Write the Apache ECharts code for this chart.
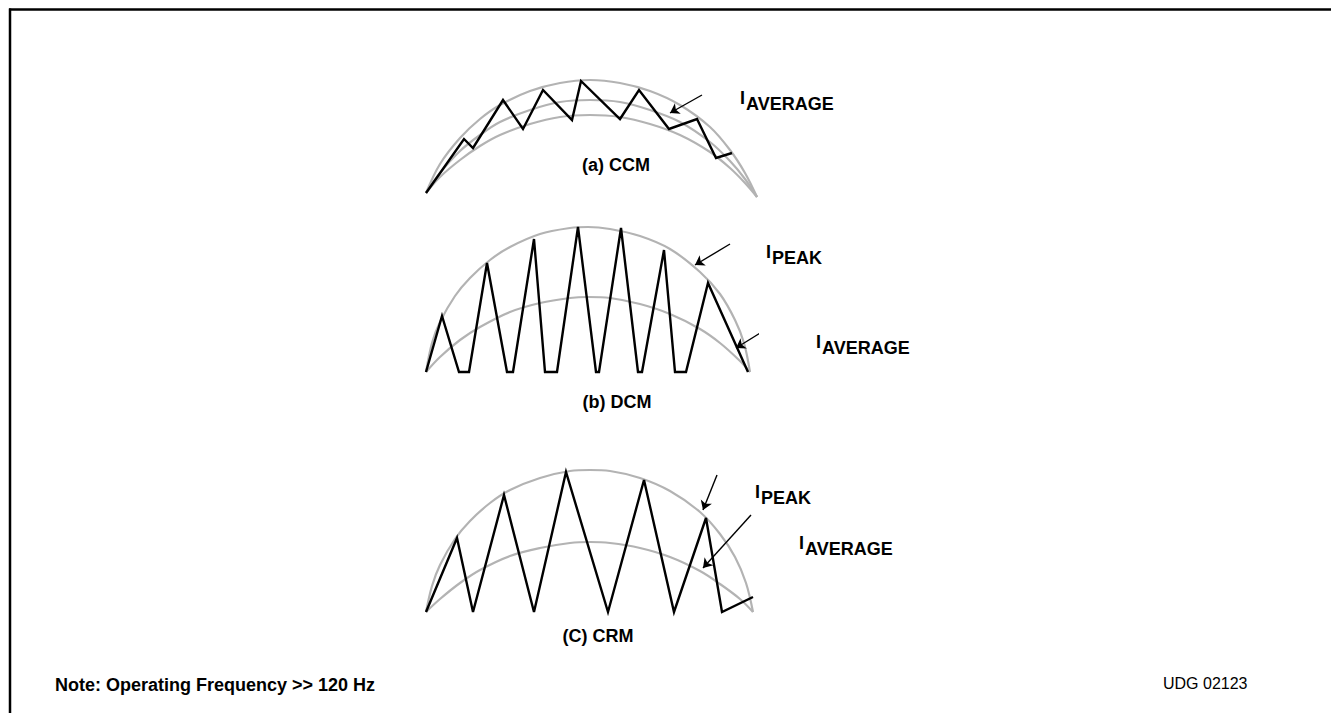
<!DOCTYPE html>
<html>
<head>
<meta charset="utf-8">
<script src="https://cdn.jsdelivr.net/npm/echarts@6/dist/echarts.min.js"></script>
<style>
html,body{margin:0;padding:0;background:#fff;}
#chart{width:1331px;height:713px;}
</style>
</head>
<body>
<div id="chart"></div>
<script>
// ---- data (time t, current i in arbitrary units) ----
// Panel (a) CCM
var ccmOuter  = [[0,2],[14,31],[34,57],[54,76],[74,90],[104,104],[134,112],[164,115],[194,112],[224,104],[254,90],[284,68],[304,45],[319,22],[331,-2]];
var ccmMiddle = [[0,2],[14,22],[34,44],[54,60],[74,73],[104,85],[134,93],[164,95],[194,93],[224,85],[254,73],[284,53],[304,34],[319,16],[331,-2]];
var ccmInner  = [[0,2],[14,18],[34,35],[54,49],[74,60],[104,71],[134,78],[164,80],[194,78],[224,71],[254,60],[284,43],[304,27],[319,12],[331,-2]];
var ccmWave   = [[0,2],[38,56],[47,47],[77,95],[97,66],[117,105],[146,75],[155,114],[194,76],[213,105],[243,66],[271,76],[290,37],[306,42]];
var ccmAvgArrow = [[276,100],[244,82]];
// Panel (b) DCM
var dcmOuter = [[0,0],[6,29],[14,50],[29,76],[44,94],[64,112],[84,125],[114,138],[144,144],[162,145],[184,143],[214,136],[244,123],[274,100],[294,78],[309,52],[318,29],[324,0]];
var dcmInner = [[0,0],[14,15],[34,32],[54,45],[84,60],[114,69],[144,74],[162,75],[184,74],[214,68],[244,58],[274,43],[294,29],[314,11],[324,0]];
var dcmWave  = [[0,0],[16,56],[33,0],[43,0],[61,109],[81,0],[87,0],[108,133],[119,0],[131,0],[152,145],[170,0],[173,0],[195,144],[212,0],[216,0],[238,122],[249,0],[260,0],[282,89],[322,0]];
var dcmPeakArrow = [[304,128],[269,107]];
var dcmAvgArrow  = [[344,45],[310,24]];
// Panel (c) CRM
var crmOuter = [[0,0],[6,26],[14,47],[29,73],[44,91],[64,109],[84,122],[114,134],[144,141],[164,142],[184,141],[214,134],[244,121],[274,100],[294,78],[309,55],[320,29],[327,0]];
var crmInner = [[0,0],[14,13],[34,29],[54,42],[84,56],[114,64],[144,69],[164,70],[184,69],[214,64],[244,55],[274,41],[294,28],[314,13],[327,0]];
var crmWave  = [[0,0],[31,74],[47,0],[78,117],[108,0],[140,140],[182,0],[218,132],[248,0],[280,94],[296,0],[327,15]];
var crmPeakArrow = [[291,137],[277,102]];
var crmAvgArrow  = [[325,97],[277,44]];
// texts
var panelLabels = ['(a) CCM', '(b) DCM', '(C) CRM'];
var noteText = 'Note: Operating Frequency >> 120 Hz';
var figId = 'UDG 02123';

// ---- chart ----
var FONT = '"Liberation Sans", Arial, Helvetica, sans-serif';
var GRAY = '#b3b3b3';
var chart = echarts.init(document.getElementById('chart'), null, {renderer: 'svg'});

var grids = [
  {left: 426, width: 331, top: 35,  height: 170},
  {left: 426, width: 331, top: 212, height: 170},
  {left: 426, width: 331, top: 452, height: 170}
];
var xAxes = [], yAxes = [];
for (var k = 0; k < 3; k++) {
  xAxes.push({type: 'value', gridIndex: k, min: 0, max: 331, show: false});
  yAxes.push({type: 'value', gridIndex: k, min: -10, max: 160, show: false});
}

function arc(data, g) {
  return {type: 'line', xAxisIndex: g, yAxisIndex: g, data: data, smooth: 0.35, showSymbol: false,
    symbol: 'none', clip: false, silent: true, lineStyle: {color: GRAY, width: 2.2}, z: 2};
}
function wave(data, g) {
  return {type: 'line', xAxisIndex: g, yAxisIndex: g, data: data, smooth: false, showSymbol: false,
    symbol: 'none', clip: false, silent: true, lineStyle: {color: '#000', width: 2.4, join: 'miter'}, z: 3};
}
function arrow(pts, g) {
  return {type: 'lines', coordinateSystem: 'cartesian2d', xAxisIndex: g, yAxisIndex: g,
    data: [{coords: pts}], symbol: ['none', 'arrow'], symbolSize: 9, silent: true,
    lineStyle: {color: '#000', width: 1.4, opacity: 1, curveness: 0}, itemStyle: {color: '#000'}, z: 4};
}

function txt(x, y, s, size, weight, align) {
  return {type: 'text', x: x, y: y, silent: true,
    style: {text: s, fill: '#000', fontSize: size, fontWeight: weight, fontFamily: FONT,
      align: align || 'left', verticalAlign: 'middle'}};
}

var graphics = [
  {type: 'line', silent: true, shape: {x1: 9, y1: 9.5, x2: 1331, y2: 9.5}, style: {stroke: '#000', lineWidth: 2.5}},
  {type: 'line', silent: true, shape: {x1: 10, y1: 8.5, x2: 10, y2: 713}, style: {stroke: '#000', lineWidth: 2.5}},
  txt(616, 165, panelLabels[0], 18, 'bold', 'center'),
  txt(617, 402, panelLabels[1], 18, 'bold', 'center'),
  txt(598, 636, panelLabels[2], 18, 'bold', 'center'),
  // I_AVERAGE (a)
  txt(740, 98, 'I', 18, 'bold'), txt(746, 104, 'AVERAGE', 18, 'bold'),
  // I_PEAK (b), I_AVERAGE (b)
  txt(766, 252, 'I', 18, 'bold'), txt(772, 258, 'PEAK', 18, 'bold'),
  txt(816, 342, 'I', 18, 'bold'), txt(822, 348, 'AVERAGE', 18, 'bold'),
  // I_PEAK (c), I_AVERAGE (c)
  txt(755, 492, 'I', 18, 'bold'), txt(761, 498, 'PEAK', 18, 'bold'),
  txt(799, 543, 'I', 18, 'bold'), txt(805, 549, 'AVERAGE', 18, 'bold'),
  txt(55, 685, noteText, 18, 'bold'),
  txt(1163, 683, figId, 16, 'normal')
];

chart.setOption({
  animation: false,
  backgroundColor: '#fff',
  grid: grids,
  xAxis: xAxes,
  yAxis: yAxes,
  graphic: graphics,
  series: [
    arc(ccmOuter, 0), arc(ccmMiddle, 0), arc(ccmInner, 0), wave(ccmWave, 0), arrow(ccmAvgArrow, 0),
    arc(dcmOuter, 1), arc(dcmInner, 1), wave(dcmWave, 1), arrow(dcmPeakArrow, 1), arrow(dcmAvgArrow, 1),
    arc(crmOuter, 2), arc(crmInner, 2), wave(crmWave, 2), arrow(crmPeakArrow, 2), arrow(crmAvgArrow, 2)
  ]
});
</script>
</body>
</html>
